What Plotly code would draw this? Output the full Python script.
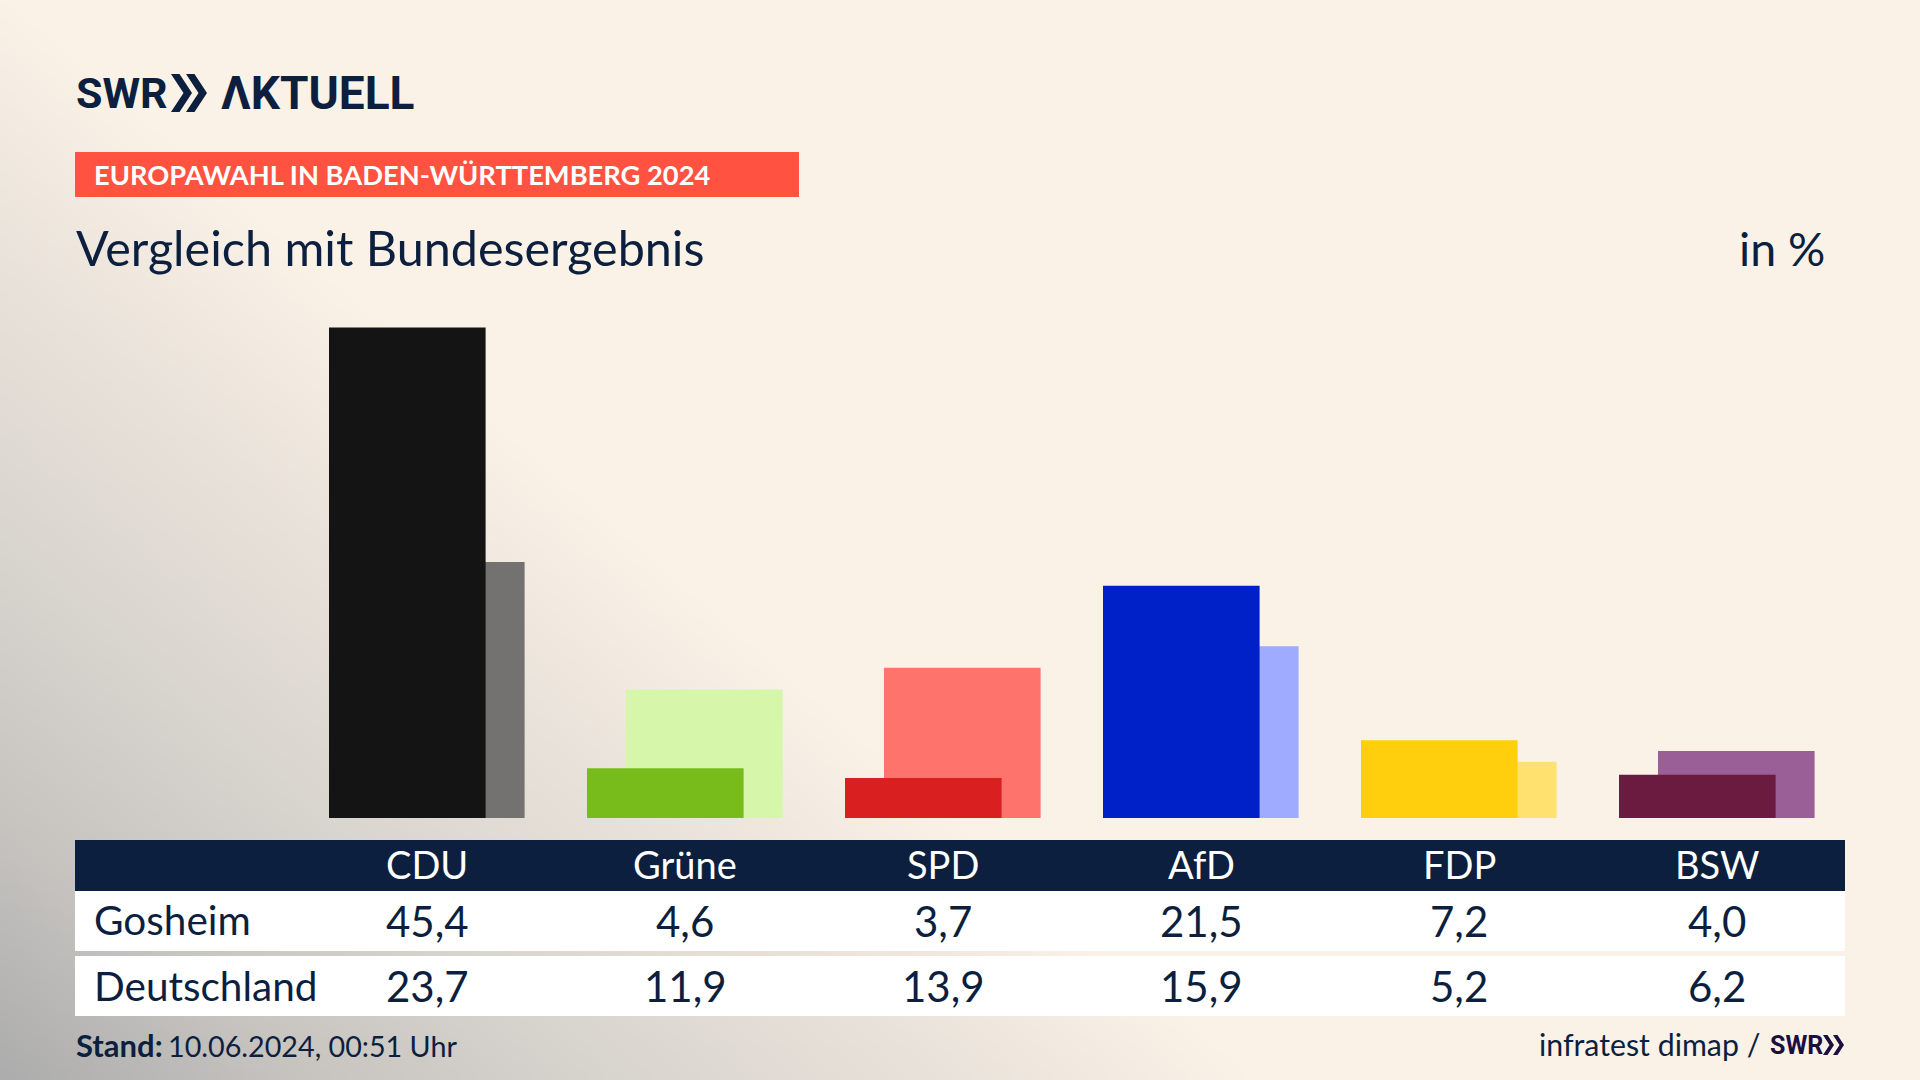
import base64
import struct
import zlib

import numpy as np
import plotly.graph_objects as go

# Data
parties = ["CDU", "Grüne", "SPD", "AfD", "FDP", "BSW"]
gosheim = [45.4, 4.6, 3.7, 21.5, 7.2, 4.0]
deutschland = [23.7, 11.9, 13.9, 15.9, 5.2, 6.2]
gosheim_labels = ["45,4", "4,6", "3,7", "21,5", "7,2", "4,0"]
deutschland_labels = ["23,7", "11,9", "13,9", "15,9", "5,2", "6,2"]
colors_dark = ["#141414", "#78BC1B", "#D91F1F", "#0020C8", "#FFCF0D", "#6B1B40"]
colors_light = ["#737270", "#D6F6AA", "#FF736D", "#9EABFF", "#FFE170", "#9A5F96"]

W, H = 1920, 1080
NAVY = "#0C1F3E"
LOGO_DARK = "#1C0F3F"
FONT = "Lato"
LOGO_FONT = "Roboto"
COL = 258  # width of one party column in px


def px(x):
    return x / W


def py(y):
    return 1 - y / H


def background_uri():
    """Diagonal grey to cream backdrop as a small PNG."""
    w, h = 480, 270
    xs, ys = np.meshgrid(np.linspace(0, W, w), np.linspace(0, H, h))
    t = np.clip((0.655 * xs - 0.756 * (ys - H)) / 816, 0, 1)
    stops = [0, 0.25, 0.5, 0.75, 1]
    rgb = np.dstack([
        np.interp(t, stops, [173, 200, 217, 233, 250]),
        np.interp(t, stops, [173, 197, 213, 226, 242]),
        np.interp(t, stops, [173, 193, 207, 218, 231]),
    ]).astype(np.uint8)
    raw = b"".join(b"\x00" + row.tobytes() for row in rgb)

    def chunk(tag, data):
        return struct.pack(">I", len(data)) + tag + data + struct.pack(">I", zlib.crc32(tag + data))

    png = b"\x89PNG\r\n\x1a\n"
    png += chunk(b"IHDR", struct.pack(">IIBBBBB", w, h, 8, 2, 0, 0, 0))
    png += chunk(b"IDAT", zlib.compress(raw))
    png += chunk(b"IEND", b"")
    return "data:image/png;base64," + base64.b64encode(png).decode()


def rect(x0, y0, x1, y1, color):
    return dict(type="rect", xref="paper", yref="paper", x0=px(x0), x1=px(x1), y0=py(y0), y1=py(y1),
                fillcolor=color, line_width=0, layer="below")


def chevrons(x, top, bottom, width, gap, thick, color):
    """Two solid right-pointing chevrons, used in the SWR logo."""
    mid = (top + bottom) / 2
    path = ""
    for left in (x, x + gap):
        pts = [(left, top), (left + thick, top), (left + width, mid), (left + thick, bottom),
               (left, bottom), (left + width - thick, mid)]
        path += "M " + " L ".join(f"{px(a):.5f},{py(b):.5f}" for a, b in pts) + " Z "
    return dict(type="path", xref="paper", yref="paper", path=path, fillcolor=color, line_width=0)


def label(text, x, y, size, color=NAVY, anchor="left", bold=False, family=FONT):
    return dict(text=f"<b>{text}</b>" if bold else text, xref="paper", yref="paper", x=px(x), y=py(y),
                xanchor=anchor, yanchor="middle", showarrow=False,
                font=dict(family=family, size=size, color=color))


def cell(text, party, y, size, color=NAVY):
    return dict(text=text, xref="x", yref="paper", x=party, y=py(y), xanchor="center", yanchor="middle",
                showarrow=False, font=dict(family=FONT, size=size, color=color))


fig = go.Figure()
fig.add_trace(go.Bar(x=parties, y=deutschland, marker_color=colors_light, marker_line_width=0,
                     width=156.6 / COL, offset=-59 / COL, name="Deutschland"))
fig.add_trace(go.Bar(x=parties, y=gosheim, marker_color=colors_dark, marker_line_width=0,
                     width=156.6 / COL, offset=-98 / COL, name="Gosheim"))

shapes = [
    rect(75, 152, 799, 197, "#FF5240"),
    rect(75, 840, 1845, 891, NAVY),
    rect(75, 891, 1845, 951, "#FFFFFF"),
    rect(75, 956, 1845, 1016, "#FFFFFF"),
    chevrons(171, 74, 112, 21, 15, 8.5, NAVY),
    chevrons(1823, 1035, 1055, 11, 10, 4.5, LOGO_DARK),
]

annotations = [
    label("SWR", 74, 93, 43, bold=True, family=LOGO_FONT),
    label("ΛKTUELL", 219, 93, 46, bold=True, family=LOGO_FONT),
    label("EUROPAWAHL IN BADEN-WÜRTTEMBERG 2024", 92, 175, 27.3, color="#FFFFFF", bold=True),
    label("Vergleich mit Bundesergebnis", 74, 247, 48.5),
    label("in %", 1827, 248, 46.5, anchor="right"),
    label("Gosheim", 92, 919, 40.5),
    label("Deutschland", 92, 985, 40.5),
    label("Stand:", 74, 1045, 31, bold=True),
    label("10.06.2024, 00:51 Uhr", 166, 1046, 28.7),
    label("infratest dimap /", 1762, 1044, 30.3, anchor="right"),
    label("SWR", 1768, 1045, 25, color=LOGO_DARK, bold=True, family=LOGO_FONT),
]
for i, party in enumerate(parties):
    annotations.append(cell(party, party, 864, 38, "#FFFFFF"))
    annotations.append(cell(gosheim_labels[i], party, 921, 42))
    annotations.append(cell(deutschland_labels[i], party, 986, 42))

fig.update_layout(
    width=W,
    height=H,
    margin=dict(l=0, r=0, t=0, b=0),
    barmode="overlay",
    showlegend=False,
    paper_bgcolor="#FAF2E7",
    plot_bgcolor="rgba(0,0,0,0)",
    xaxis=dict(visible=False, type="category", range=[-0.5, 5.5], domain=[px(298), px(1846)]),
    yaxis=dict(visible=False, range=[0, 50], domain=[py(818), py(818 - 50 * 490.4 / 45.4)]),
    images=[dict(source=background_uri(), xref="paper", yref="paper", x=0, y=1, sizex=1, sizey=1,
                 sizing="stretch", xanchor="left", yanchor="top", layer="below")],
    shapes=shapes,
    annotations=annotations,
)

fig.write_html("out.html", post_script="document.body.style.margin='0';", config=dict(displayModeBar=False))
